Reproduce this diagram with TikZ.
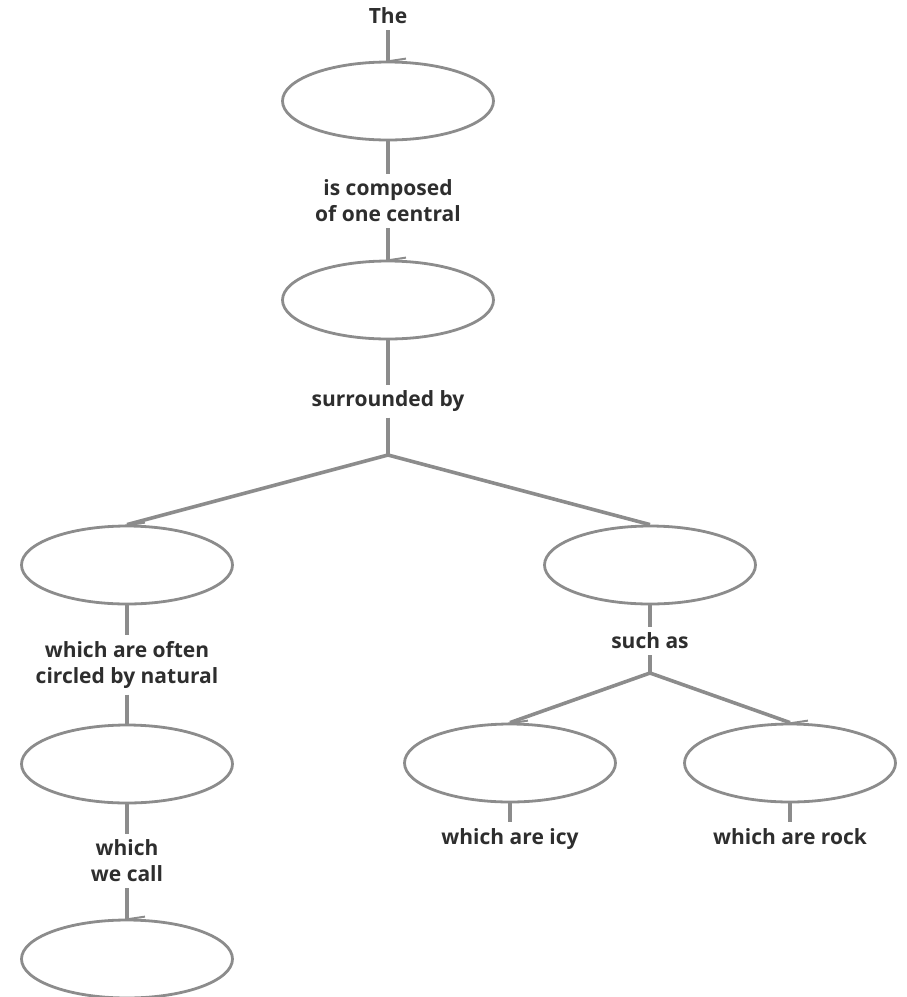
\documentclass[tikz,border=0pt]{standalone}
\usepackage{fontspec}
\setmainfont{Open Sans}
\usetikzlibrary{shapes.geometric}
\definecolor{linegray}{HTML}{8C8C8C}
\definecolor{textgray}{HTML}{2E2E2E}
\begin{document}
\begin{tikzpicture}[x=1pt,y=-1pt,
  oval/.style={ellipse, draw=linegray, line width=2.8pt, minimum width=211pt, minimum height=78pt, inner sep=0pt},
  lbl/.style={font=\fontsize{21}{26}\selectfont\bfseries, text=textgray, align=center, inner sep=0pt, outer sep=6pt},
  conn/.style={draw=linegray, line width=3.6pt},
  hook/.style={draw=linegray, line width=2pt}]
\useasboundingbox (0,0) rectangle (907,997);

\node[lbl] (the) at (388,16) {The};
\node[oval] (e1) at (388,101) {};
\node[lbl] (t1) at (388,201) {is composed\\of one central};
\node[oval] (e2) at (388,300) {};
\node[lbl] (t2) at (388,401) {surrounded by};
\coordinate (j1) at (388,455);
\node[oval] (e3) at (127,565) {};
\node[oval] (e6) at (650,565) {};
\node[lbl] (t3) at (127,665) {which are often\\circled by natural};
\node[oval] (e4) at (127,764) {};
\node[lbl] (t4) at (127,861) {which\\we call};
\node[oval] (e5) at (127,959) {};
\node[lbl] (t5) at (650,641) {such as};
\coordinate (j2) at (650,673);
\node[oval] (e7) at (510,763) {};
\node[oval] (e8) at (790,763) {};
\node[lbl, anchor=base] (t6) at (510,844) {which are icy};
\node[lbl, anchor=base] (t7) at (790,844) {which are rock};

\draw[conn] (the) -- (e1.north);
\draw[conn] (e1.south) -- (t1);
\draw[conn] (t1) -- (e2.north);
\draw[conn] (e2.south) -- (t2);
\draw[conn] (t2) -- (j1);
\draw[conn] (j1) -- (e3.north);
\draw[conn] (j1) -- (e6.north);
\draw[conn] (e3.south) -- (t3);
\draw[conn] (t3) -- (e4.north);
\draw[conn] (e4.south) -- (t4);
\draw[conn] (t4) -- (e5.north);
\draw[conn] (e6.south) -- (t5);
\draw[conn] (t5) -- (j2);
\draw[conn] (j2) -- (e7.north);
\draw[conn] (j2) -- (e8.north);
\draw[conn] (e7.south) -- (t6.north);
\draw[conn] (e8.south) -- (t7.north);

\foreach \e in {e1,e2,e3,e5,e7,e8}{
  \draw[hook] (\e.north) ++(-2,1) -- ++(20,-3);
}
\end{tikzpicture}
\end{document}
